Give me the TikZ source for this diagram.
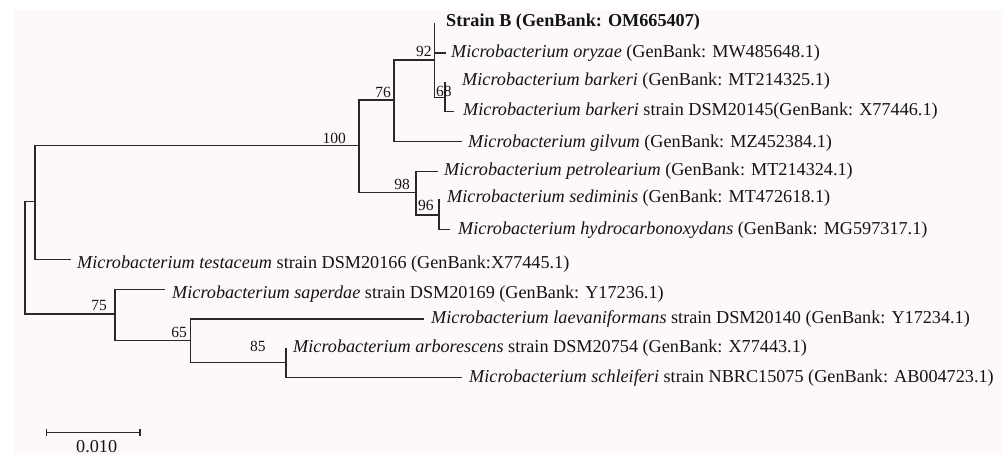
\documentclass[tikz,border=0pt]{standalone}
\usepackage{fontspec}
\setmainfont{Liberation Serif}
\usetikzlibrary{arrows.meta}
\definecolor{bgpaper}{RGB}{252,249,248}
\definecolor{treeline}{RGB}{40,40,40}
\definecolor{treetext}{RGB}{20,20,20}
\newcommand\leaffont{\fontsize{18.2bp}{20bp}\selectfont}
\newcommand\supportfont{\fontsize{15.5bp}{17bp}\selectfont}
\begin{document}
\begin{tikzpicture}[x=1bp,y=-1bp,
  branch/.style={draw=treeline, line width=1.25bp, line cap=rect},
  leaf/.style={anchor=base west, inner sep=0pt, font=\leaffont, text=treetext},
  supl/.style={anchor=base east, inner sep=0pt, font=\supportfont, text=treetext},
  supr/.style={anchor=base west, inner sep=0pt, font=\supportfont, text=treetext}]
\useasboundingbox (0,0) rectangle (1003,455);
\fill[white] (0,0) rectangle (1003,455);
\fill[bgpaper] (14,10) rectangle (1003,455);

% internal nodes
\coordinate (root) at (25,258);
\coordinate (cA) at (35,201.7);
\coordinate (n100) at (359,145.7);
\coordinate (n76) at (394,100);
\coordinate (n92) at (434.5,60);
\coordinate (n68) at (445,97.3);
\coordinate (n98) at (416,192.5);
\coordinate (n96) at (439,215);
\coordinate (n75) at (115,314);
\coordinate (n65) at (190.7,340.7);
\coordinate (n85) at (286,362.7);

% leaf tips
\coordinate (sB) at (434.5,23.3);
\coordinate (ory) at (445,53);
\coordinate (bkm) at (445,82.5);
\coordinate (bkd) at (453,111.7);
\coordinate (gil) at (461.7,141.7);
\coordinate (pet) at (437,171.7);
\coordinate (sed) at (439,200);
\coordinate (hyd) at (449,229.3);
\coordinate (tes) at (70,259.3);
\coordinate (sap) at (164,289.3);
\coordinate (lae) at (423,319);
\coordinate (arb) at (286,349);
\coordinate (sch) at (461,377.3);

% branches
\draw[branch] (root) |- (cA);
\draw[branch] (root) |- (n75);
\draw[branch] (cA) |- (n100);
\draw[branch] (cA) |- (tes);
\draw[branch] (n100) |- (n76);
\draw[branch] (n100) |- (n98);
\draw[branch] (n76) |- (n92);
\draw[branch] (n76) |- (gil);
\draw[branch] (n92) |- (sB);
\draw[branch] (n92) |- (ory);
\draw[branch] (n92) |- (n68);
\draw[branch] (n68) |- (bkm);
\draw[branch] (n68) |- (bkd);
\draw[branch] (n98) |- (pet);
\draw[branch] (n98) |- (n96);
\draw[branch] (n96) |- (sed);
\draw[branch] (n96) |- (hyd);
\draw[branch] (n75) |- (sap);
\draw[branch] (n75) |- (n65);
\draw[branch] (n65) |- (lae);
\draw[branch] (n65) |- (n85);
\draw[branch] (n85) |- (arb);
\draw[branch] (n85) |- (sch);

% leaf labels
\node[leaf] (lsB) at (446,26.5) {\textbf{Strain B (GenBank: OM665407)}};
\node[leaf] (lory) at (451,58) {\textit{Microbacterium oryzae} (GenBank: MW485648.1)};
\node[leaf] (lbkm) at (462,85.5) {\textit{Microbacterium barkeri} (GenBank: MT214325.1)};
\node[leaf] (lbkd) at (463,115.5) {\textit{Microbacterium barkeri} strain DSM20145(GenBank: X77446.1)};
\node[leaf] (lgil) at (468,148) {\textit{Microbacterium gilvum} (GenBank: MZ452384.1)};
\node[leaf] (lpet) at (444,176) {\textit{Microbacterium petrolearium} (GenBank: MT214324.1)};
\node[leaf] (lsed) at (447,202.5) {\textit{Microbacterium sediminis} (GenBank: MT472618.1)};
\node[leaf] (lhyd) at (458,235) {\textit{Microbacterium hydrocarbonoxydans} (GenBank: MG597317.1)};
\node[leaf] (ltes) at (77,269) {\textit{Microbacterium testaceum} strain DSM20166 (GenBank:X77445.1)};
\node[leaf] (lsap) at (172,299) {\textit{Microbacterium saperdae} strain DSM20169 (GenBank: Y17236.1)};
\node[leaf] (llae) at (431,324) {\textit{Microbacterium laevaniformans} strain DSM20140 (GenBank: Y17234.1)};
\node[leaf] (larb) at (293,352.5) {\textit{Microbacterium arborescens} strain DSM20754 (GenBank: X77443.1)};
\node[leaf] (lsch) at (469,383) {\textit{Microbacterium schleiferi} strain NBRC15075 (GenBank: AB004723.1)};

% support values
\node[supl] (s100) at (346,143.5) {100};
\node[supl] (s76) at (391,98) {76};
\node[supl] (s92) at (431.7,56.7) {92};
\node[supr] (s68) at (436,96.5) {68};
\node[supl] (s98) at (410,189.5) {98};
\node[supr] (s96) at (418,211) {96};
\node[supl] (s75) at (107,311) {75};
\node[supl] (s65) at (187,337.5) {65};
\node[supr] (s85) at (250,352) {85};

% scale bar
\coordinate (sbL) at (46,432.3);
\coordinate (sbR) at (140.7,432.3);
\draw[treeline, line width=1.25bp, {Bar[width=6.5bp]}-{Bar[width=6.5bp]}] (sbL) -- (sbR);
\node[anchor=base, inner sep=0pt, font=\leaffont, text=treetext] (sblabel) at (96.7,452) {0.010};
\end{tikzpicture}
\end{document}
